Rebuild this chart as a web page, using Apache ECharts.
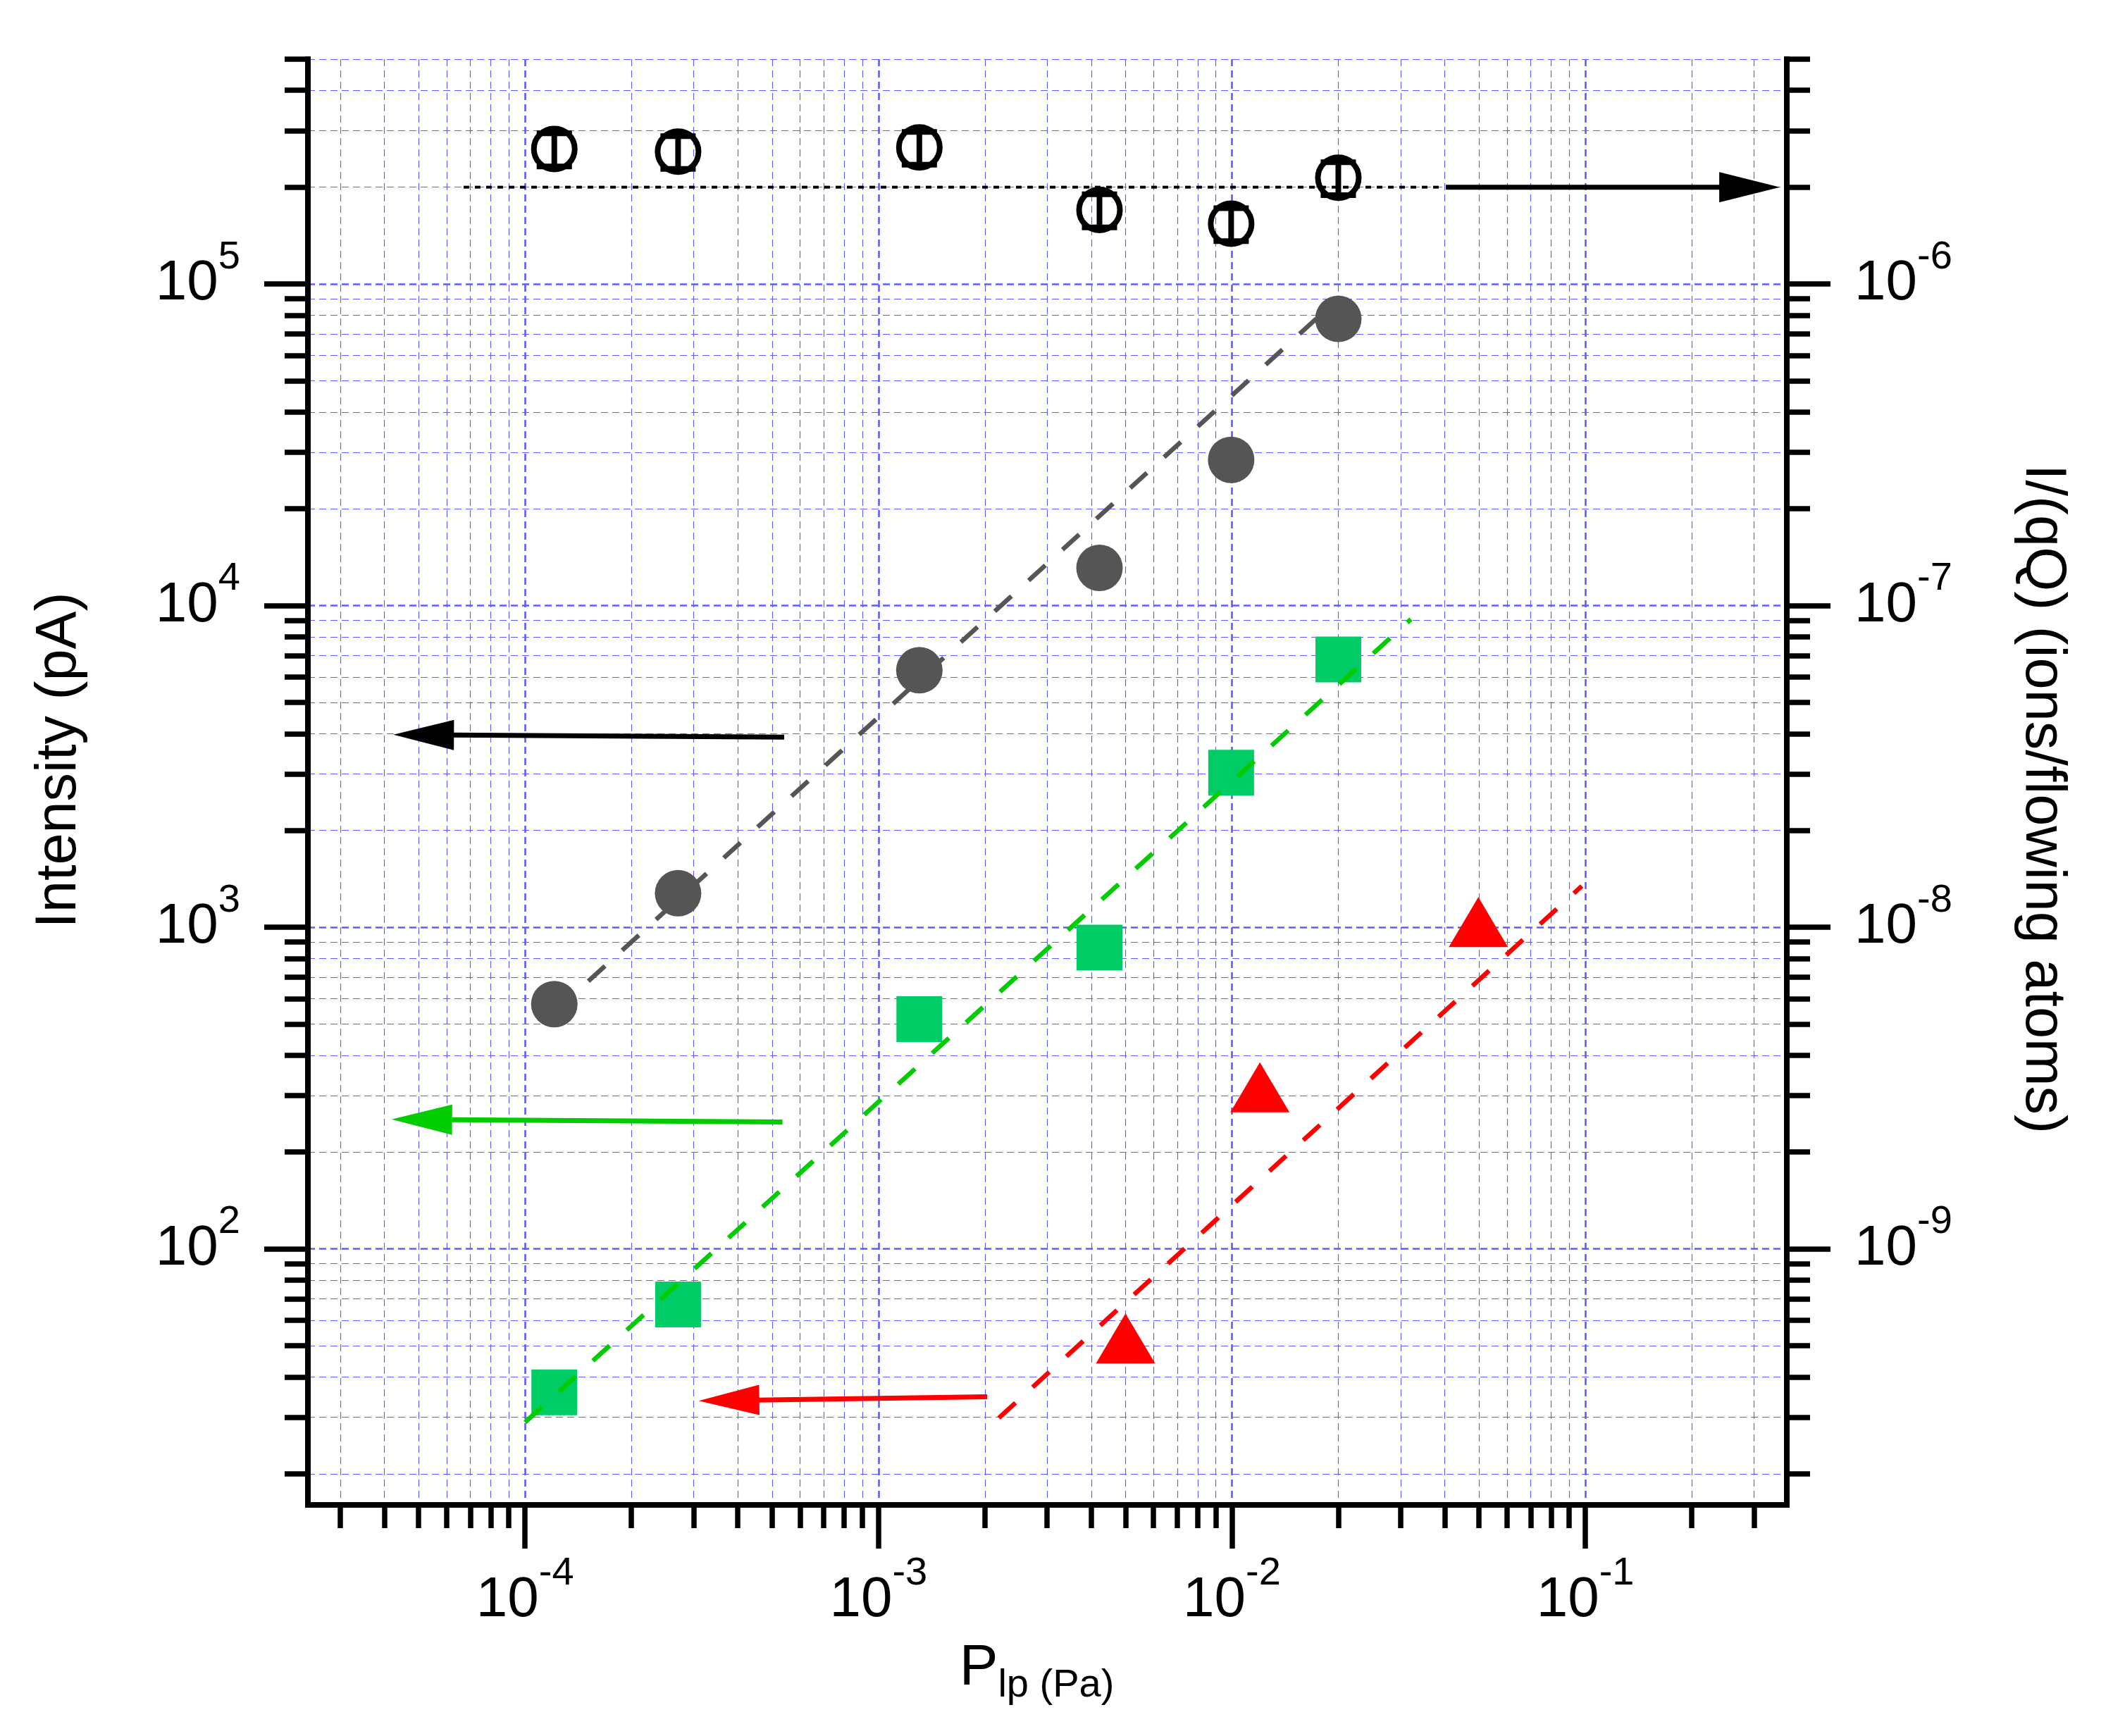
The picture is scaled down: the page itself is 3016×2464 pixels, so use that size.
<!DOCTYPE html>
<html>
<head>
<meta charset="utf-8">
<script src="https://cdn.jsdelivr.net/npm/echarts@6/dist/echarts.min.js"></script>
<style>html,body{margin:0;padding:0;background:#fff}#c{width:3016px;height:2464px}</style>
</head>
<body>
<div id="c"></div>
<script>
// ---------------- data ----------------
const pressure = [1.21e-4, 2.71e-4, 1.305e-3, 4.22e-3, 9.95e-3, 2.0e-2];
const intensityGray = [577, 1276, 6296, 13100, 28400, 77900];
const intensityGreen = [35.8, 67.2, 518, 865, 3023, 6806];
const pressureRed = [5.0e-3, 1.2e-2, 4.98e-2];
const intensityRed = [52.7, 318, 1038];
const ionsPerAtom = [2.63e-6, 2.58e-6, 2.66e-6, 1.70e-6, 1.54e-6, 2.14e-6];
const ionsPerAtomErr = [0.31e-6, 0.30e-6, 0.31e-6, 0.20e-6, 0.18e-6, 0.25e-6];

const fitGrayX = [1.51e-4, 1.95e-2];
const fitGrayY = [680, 87800];
const fitGreenX = [1.0e-4, 3.21e-2];
const fitGreenY = [28.9, 9073];
const fitRedX = [2.19e-3, 9.77e-2];
const fitRedY = [29.8, 1343];
const meanX = [6.7e-5, 3.85e-2];
const meanY = [2.0e-6, 2.0e-6];

// arrows: [tailX, tailY, tipX, tipY]
const arrowGray = [5.41e-4, 3900, 4.24e-5, 3970];
const arrowGreen = [5.35e-4, 248, 4.19e-5, 253];
const arrowRed = [2.03e-3, 34.7, 3.10e-4, 33.7];
const arrowRight = [4.03e-2, 2.0e-6, 0.355, 2.0e-6];

// axes
const xMin = 2.43e-5, xMax = 0.3715;
const yMin = 16, yMax = 5e5;
const rightMin = 1.6e-10, rightMax = 5e-6;
const xMajorTicks = [1e-4, 1e-3, 1e-2, 1e-1];
const yMajorTicks = [1e2, 1e3, 1e4, 1e5];
const rightMajorTicks = [1e-9, 1e-8, 1e-7, 1e-6];
const mantissas = [2, 3, 4, 5, 6, 7, 8, 9];

const xTitle = '{p|P}{sub|lp (Pa)}';
const leftTitle = 'Intensity (pA)';
const rightTitle = 'I/(qQ) (ions/flowing atoms)';

// ---------------- helpers ----------------
function minorTicks(lo, hi) {
  const out = [];
  for (let e = Math.floor(Math.log10(lo)); e <= Math.ceil(Math.log10(hi)); e++) {
    for (const m of mantissas) {
      const v = m * Math.pow(10, e);
      if (v >= lo * 0.9999 && v <= hi * 1.0001) out.push(v);
    }
  }
  return out;
}
const FONT = "'Liberation Sans', Arial, Helvetica, sans-serif";
const GRID_COLOR = '#5c5cff';
const tickRich = {
  b: {fontSize: 80, lineHeight: 80, fontFamily: FONT, color: '#000', verticalAlign: 'bottom'},
  s: {fontSize: 56, lineHeight: 56, fontFamily: FONT, color: '#000', verticalAlign: 'bottom', padding: [0, 0, 50, 0]}
};
const powFormatter = v => '{b|10}{s|' + Math.round(Math.log10(v)) + '}';

function axisBase(type, min, max, position, major, ticks, showGrid) {
  return {
    type: 'log', logBase: 10, min: min, max: max, position: position, gridIndex: 0,
    axisLine: {show: true, onZero: false, lineStyle: {color: '#000', width: 8, cap: 'square'}},
    axisTick: {show: true, inside: false, customValues: ticks, length: major ? 62 : 33,
      lineStyle: {color: '#000', width: 7.5}},
    axisLabel: major ? {show: true, customValues: ticks, formatter: powFormatter, rich: tickRich, margin: 96,
      hideOverlap: false} : {show: false},
    splitLine: {show: showGrid, lineStyle: {color: GRID_COLOR, width: major ? 2.6 : 1.15, type: [10, 6]}},
    minorTick: {show: false}, minorSplitLine: {show: false},
    axisPointer: {show: false},
    silent: true
  };
}

const xMajor = axisBase('x', xMin, xMax, 'bottom', true, xMajorTicks, true);
xMajor.name = xTitle;
xMajor.nameLocation = 'middle';
xMajor.nameGap = 203;
xMajor.nameTextStyle = {
  padding: [0, 30, 0, 0],
  rich: {
    p: {fontSize: 82, lineHeight: 82, fontFamily: FONT, color: '#000', verticalAlign: 'bottom', padding: [0, 0, 12, 0]},
    sub: {fontSize: 56, lineHeight: 56, fontFamily: FONT, color: '#000', verticalAlign: 'bottom'}
  }
};
const xMinor = axisBase('x', xMin, xMax, 'bottom', false, minorTicks(xMin, xMax), true);

const yLeftMajor = axisBase('y', yMin, yMax, 'left', true, yMajorTicks, true);
yLeftMajor.name = leftTitle;
yLeftMajor.nameLocation = 'middle';
yLeftMajor.nameGap = 312;
yLeftMajor.nameTextStyle = {fontSize: 81, lineHeight: 81, fontFamily: FONT, color: '#000', padding: [0, 0, 0, 62]};
const yLeftMinor = axisBase('y', yMin, yMax, 'left', false, minorTicks(yMin, yMax), true);

const yRightMajor = axisBase('y', rightMin, rightMax, 'right', true, rightMajorTicks, false);
yRightMajor.name = rightTitle;
yRightMajor.nameLocation = 'middle';
yRightMajor.nameRotate = -90;
yRightMajor.nameGap = 322;
yRightMajor.nameTextStyle = {fontSize: 81, lineHeight: 81, fontFamily: FONT, color: '#000', padding: [0, 0, 0, 48]};
const yRightMinor = axisBase('y', rightMin, rightMax, 'right', false, minorTicks(rightMin, rightMax), false);

function pairs(xs, ys) { return xs.map((x, i) => [x, ys[i]]); }

function renderArrow(params, api) {
  const p1 = api.coord([api.value(0), api.value(1)]);
  const p2 = api.coord([api.value(2), api.value(3)]);
  const dx = p2[0] - p1[0], dy = p2[1] - p1[1];
  const len = Math.sqrt(dx * dx + dy * dy);
  const ux = dx / len, uy = dy / len;
  const headLen = 86, headHalf = 21.5;
  const bx = p2[0] - ux * headLen, by = p2[1] - uy * headLen;
  const color = api.visual('color');
  return {
    type: 'group',
    children: [
      {type: 'line', shape: {x1: p1[0], y1: p1[1], x2: bx + ux * 4, y2: by + uy * 4},
        style: {stroke: color, lineWidth: 7, fill: null}},
      {type: 'polygon', shape: {points: [[p2[0], p2[1]], [bx - uy * headHalf, by + ux * headHalf], [bx + uy * headHalf, by - ux * headHalf]]},
        style: {fill: color, stroke: null}}
    ]
  };
}

function renderErrorBar(params, api) {
  const x = api.value(0);
  const pTop = api.coord([x, api.value(2)]);
  const pBot = api.coord([x, api.value(1)]);
  const cap = 25;
  const st = {stroke: '#000', lineWidth: 8, fill: null};
  return {
    type: 'group',
    children: [
      {type: 'line', shape: {x1: pTop[0], y1: pTop[1], x2: pBot[0], y2: pBot[1]}, style: st},
      {type: 'line', shape: {x1: pTop[0] - cap, y1: pTop[1], x2: pTop[0] + cap, y2: pTop[1]}, style: st},
      {type: 'line', shape: {x1: pBot[0] - cap, y1: pBot[1], x2: pBot[0] + cap, y2: pBot[1]}, style: st}
    ]
  };
}

const fitLineStyle = (color) => ({color: color, width: 6.5, type: [32, 33], opacity: 1});

const chart = echarts.init(document.getElementById('c'), null, {renderer: 'canvas'});
chart.setOption({
  animation: false,
  backgroundColor: '#ffffff',
  grid: {left: 437, right: 480, top: 84, bottom: 328, containLabel: false, outerBoundsMode: 'none', show: false},
  xAxis: [xMajor, xMinor],
  yAxis: [yLeftMajor, yLeftMinor, yRightMajor, yRightMinor],
  series: [
    {type: 'scatter', name: 'gray', xAxisIndex: 0, yAxisIndex: 0, data: pairs(pressure, intensityGray),
      symbol: 'circle', symbolSize: 66, itemStyle: {color: '#555555', opacity: 1}, z: 3, silent: true},
    {type: 'scatter', name: 'green', xAxisIndex: 0, yAxisIndex: 0, data: pairs(pressure, intensityGreen),
      symbol: 'rect', symbolSize: 65, itemStyle: {color: '#00cc66', opacity: 1}, z: 3, silent: true},
    {type: 'scatter', name: 'red', xAxisIndex: 0, yAxisIndex: 0, data: pairs(pressureRed, intensityRed),
      symbol: 'triangle', symbolSize: [84, 71], itemStyle: {color: '#ff0000', opacity: 1}, z: 3, silent: true},
    {type: 'scatter', name: 'ratio', xAxisIndex: 0, yAxisIndex: 2, data: pairs(pressure, ionsPerAtom),
      symbol: 'circle', symbolSize: 58, itemStyle: {color: 'rgba(255,255,255,0)', borderColor: '#000', borderWidth: 8, opacity: 1}, z: 3, silent: true},
    {type: 'custom', name: 'ratioErr', xAxisIndex: 0, yAxisIndex: 2,
      data: pressure.map((x, i) => [x, ionsPerAtom[i] - ionsPerAtomErr[i], ionsPerAtom[i] + ionsPerAtomErr[i]]),
      encode: {x: 0, y: [1, 2]}, renderItem: renderErrorBar, z: 4, silent: true},
    {type: 'line', name: 'fitGray', xAxisIndex: 0, yAxisIndex: 0, data: pairs(fitGrayX, fitGrayY),
      symbol: 'none', lineStyle: fitLineStyle('#555555'), z: 5, silent: true},
    {type: 'line', name: 'fitGreen', xAxisIndex: 0, yAxisIndex: 0, data: pairs(fitGreenX, fitGreenY),
      symbol: 'none', lineStyle: fitLineStyle('#00cc00'), z: 5, silent: true},
    {type: 'line', name: 'fitRed', xAxisIndex: 0, yAxisIndex: 0, data: pairs(fitRedX, fitRedY),
      symbol: 'none', lineStyle: fitLineStyle('#ff0000'), z: 5, silent: true},
    {type: 'line', name: 'mean', xAxisIndex: 0, yAxisIndex: 2, data: pairs(meanX, meanY),
      symbol: 'none', lineStyle: {color: '#000', width: 4, type: [8, 8]}, z: 5, silent: true},
    {type: 'custom', name: 'arrowsLeft', xAxisIndex: 0, yAxisIndex: 0,
      data: [
        {value: arrowGray, itemStyle: {color: '#000000'}},
        {value: arrowGreen, itemStyle: {color: '#00cc00'}},
        {value: arrowRed, itemStyle: {color: '#ff0000'}}
      ],
      renderItem: renderArrow, z: 6, silent: true},
    {type: 'custom', name: 'arrowRight', xAxisIndex: 0, yAxisIndex: 2,
      data: [{value: arrowRight, itemStyle: {color: '#000000'}}],
      renderItem: renderArrow, z: 6, silent: true}
  ]
});
</script>
</body>
</html>
